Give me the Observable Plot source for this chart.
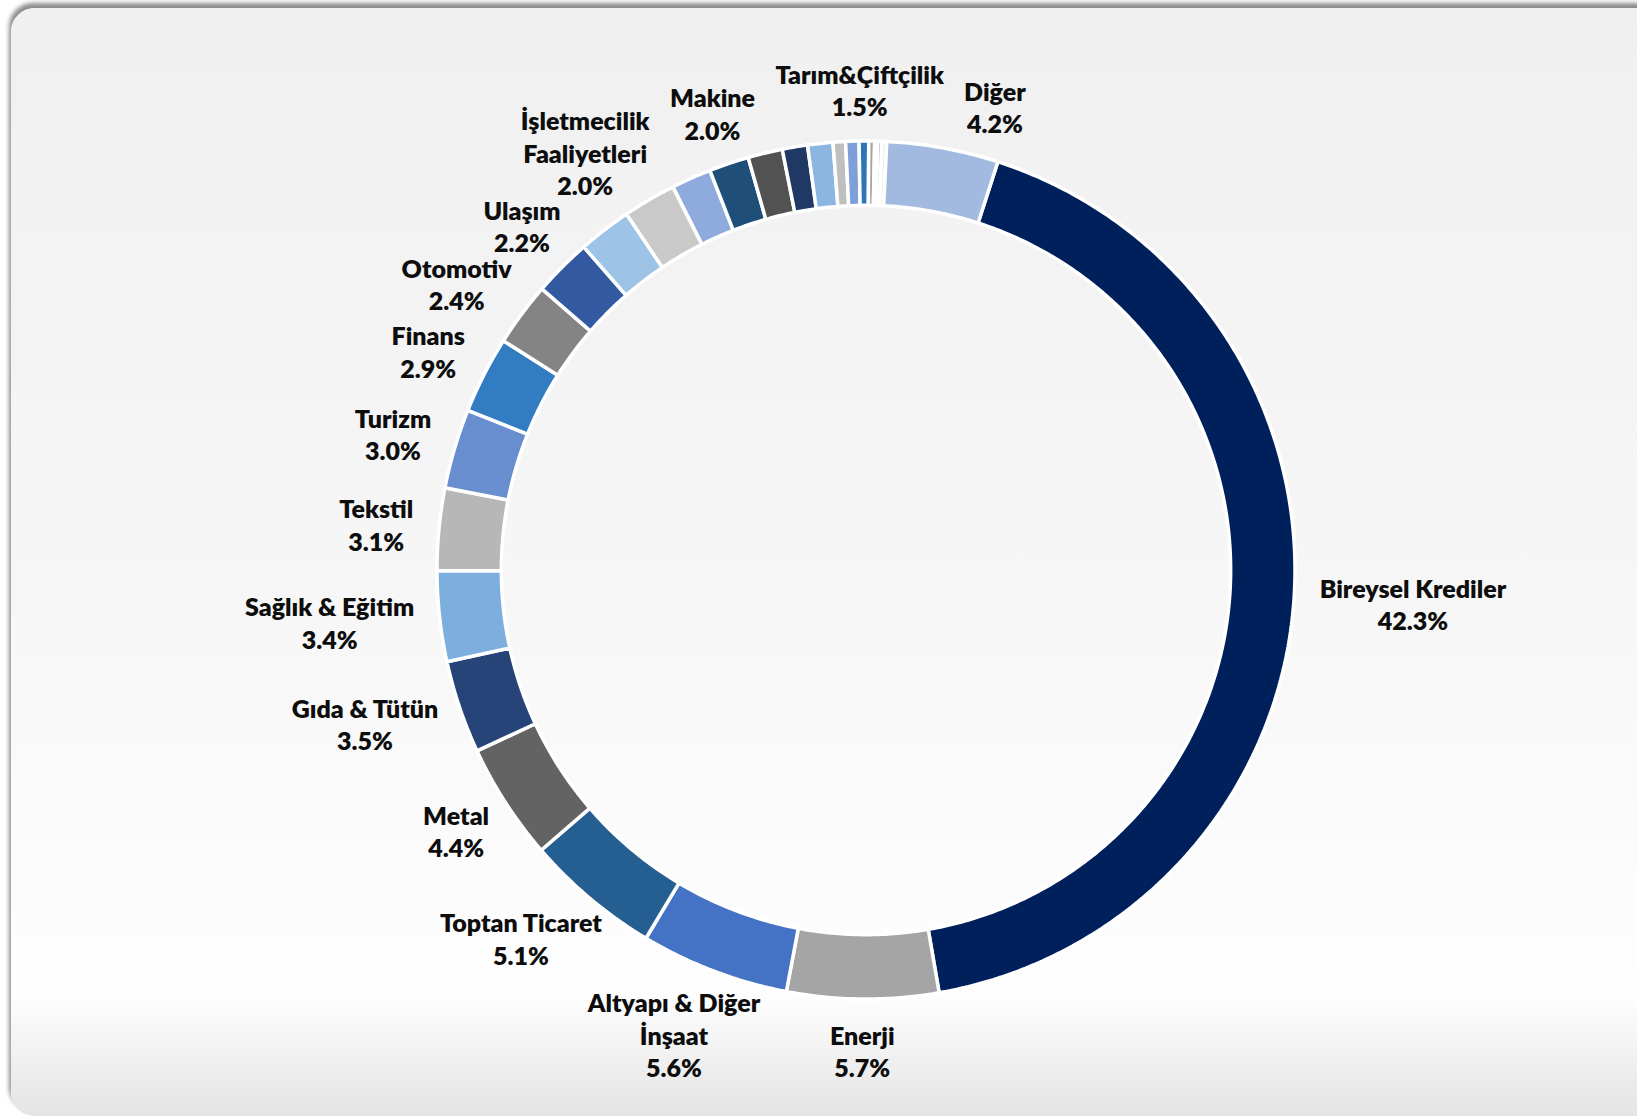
<!DOCTYPE html>
<html>
<head>
<meta charset="utf-8">
<script src="https://cdn.jsdelivr.net/npm/d3@7"></script>
<script src="https://cdn.jsdelivr.net/npm/@observablehq/plot@0.6"></script>
<style>
  html, body { margin: 0; padding: 0; background: #ffffff; width: 1637px; height: 1116px; overflow: hidden; }
  #frame {
    position: absolute; left: 11px; top: 8px; width: 1700px; height: 1108px;
    border-radius: 24px;
    background: linear-gradient(to bottom, #f0f0f0 0%, #f6f6f6 50%, #fefefe 89%, #e4e4e4 100%);
    box-shadow: -2px -5px 4px rgba(0,0,0,0.45);
  }
  #chart { position: absolute; left: 0; top: 0; }
</style>
</head>
<body>
<div id="frame"></div>
<div id="chart"></div>
<script>
// ---- Data ----
const categories = [
  "Bireysel Krediler", "Enerji", "Altyapı & Diğer İnşaat", "Toptan Ticaret", "Metal",
  "Gıda & Tütün", "Sağlık & Eğitim", "Tekstil", "Turizm", "Finans", "Otomotiv", "Ulaşım",
  "İşletmecilik Faaliyetleri", "Makine", "Tarım&Çiftçilik",
  "Diğer sektör 1", "Diğer sektör 2", "Diğer sektör 3", "Diğer sektör 4", "Diğer sektör 5",
  "Diğer sektör 6", "Diğer sektör 7", "Diğer sektör 8", "Diğer sektör 9", "Diğer sektör 10",
  "Diğer sektör 11", "Diğer"
];
const values = [
  42.3, 5.7, 5.6, 5.1, 4.4,
  3.5, 3.4, 3.1, 3.0, 2.9, 2.4, 2.2,
  2.0, 2.0, 1.5,
  1.5, 1.3, 0.95, 0.95, 0.47,
  0.5, 0.36, 0.22, 0.12, 0.15,
  0.18, 4.2
];
// label text as displayed (null = slice has no label)
const labelTexts = [
  "Bireysel Krediler", "Enerji", "Altyapı & Diğer\nİnşaat", "Toptan Ticaret", "Metal",
  "Gıda & Tütün", "Sağlık & Eğitim", "Tekstil", "Turizm", "Finans", "Otomotiv", "Ulaşım",
  "İşletmecilik\nFaaliyetleri", "Makine", "Tarım&Çiftçilik",
  null, null, null, null, null, null, null, null, null, null, null, "Diğer"
];
const colors = [
  "#00205c", "#a5a5a5", "#4472c4", "#255e91", "#636363",
  "#264478", "#7cafdd", "#b7b7b7", "#698ed0", "#327dc2", "#848484", "#335aa1",
  "#9dc3e6", "#c9c9c9", "#8faadc",
  "#1f4e79", "#525252", "#203864", "#8cb6e2", "#bfbfbf",
  "#7f9fd8", "#2e75b6", "#a5a5a5", "#d0d0d0", "#7f9fd8",
  "#eeeeee", "#a2b9e0"
];

// ---- Layout constants ----
const W = 1637, H = 1116;
const CX = 865.5, CY = 569.5;      // donut centre (px)
const RPX = 429;                   // outer radius (px)
const HOLE = 0.85;                 // inner / outer radius
const START = 17.9 * Math.PI / 180; // first slice angle (clockwise from 12 o'clock)
const FONT_SIZE = 25, LINE_H = 1.3, FONT = "Lato, 'Open Sans', sans-serif", WEIGHT = 800;
const R0 = 448;                    // label anchor radius (px)
const BOX_PAD_X = 14;              // horizontal padding of a label box
const GAP_X = 6, GAP_Y = 2;        // minimum gap between neighbouring labels

// ---- Slices ----
const total = d3.sum(values);
let acc = 0;
const slices = categories.map((c, i) => {
  const a0 = START + acc / total * 2 * Math.PI;
  acc += values[i];
  const a1 = START + acc / total * 2 * Math.PI;
  return {category: c, value: values[i], color: colors[i], label: labelTexts[i], a0, a1};
});

function sector(a0, a1) {
  const pts = [];
  const n = Math.max(2, Math.ceil((a1 - a0) / (Math.PI / 360)));
  for (let k = 0; k <= n; k++) { const a = a0 + (a1 - a0) * k / n; pts.push([Math.sin(a), -Math.cos(a)]); }
  for (let k = n; k >= 0; k--) { const a = a0 + (a1 - a0) * k / n; pts.push([HOLE * Math.sin(a), -HOLE * Math.cos(a)]); }
  pts.push(pts[0]);
  return {type: "Polygon", coordinates: [pts]};
}

// ---- Labels: outside the ring, pushed apart when they collide ----
const ctx = document.createElement("canvas").getContext("2d");
ctx.font = `${WEIGHT} ${FONT_SIZE}px Lato`;
const linePx = FONT_SIZE * LINE_H;
const labels = slices.filter(d => d.label).map(d => {
  const text = `${d.label}\n${d.value.toFixed(1)}%`;
  const lines = text.split("\n");
  const w = d3.max(lines, l => ctx.measureText(l).width) + BOX_PAD_X;
  const h = lines.length * linePx;
  return {text, w, h, hc: h - 10, theta: (d.a0 + d.a1) / 2};
});
function place(L) {
  const s = Math.sin(L.theta), c = Math.cos(L.theta);
  L.cx = R0 * s + L.w / 2 * s;
  L.cy = -R0 * c - L.h / 2 * c;
}
function overlap(A, B) {
  return Math.abs(A.cx - B.cx) < (A.w + B.w) / 2 + GAP_X && Math.abs(A.cy - B.cy) < (A.hc + B.hc) / 2 + GAP_Y;
}
labels.forEach(place);
for (let i = 1; i < labels.length; i++) {
  let guard = 0;
  while (overlap(labels[i], labels[i - 1]) && guard++ < 400) { labels[i].theta += 0.004; place(labels[i]); }
}
labels.forEach(L => { L.x = L.cx / RPX; L.y = L.cy / RPX; });

const domain = {type: "MultiPoint", coordinates: [[-CX / RPX, -CY / RPX], [(W - CX) / RPX, (H - CY) / RPX]]};

const chart = Plot.plot({
  width: W, height: H, margin: 0,
  style: {background: "transparent"},
  projection: {type: "identity", domain},
  color: {type: "identity"},
  marks: [
    Plot.geo(slices, {geometry: d => sector(d.a0, d.a1), fill: "color", stroke: "white", strokeWidth: 3.5, strokeLinejoin: "miter"}),
    Plot.text(labels, {x: "x", y: "y", text: "text", fontFamily: FONT, fontWeight: WEIGHT, fontSize: FONT_SIZE,
      lineHeight: LINE_H, textAnchor: "middle", fill: "#0d0d0d"})
  ]
});
document.getElementById("chart").appendChild(chart);
</script>
</body>
</html>
